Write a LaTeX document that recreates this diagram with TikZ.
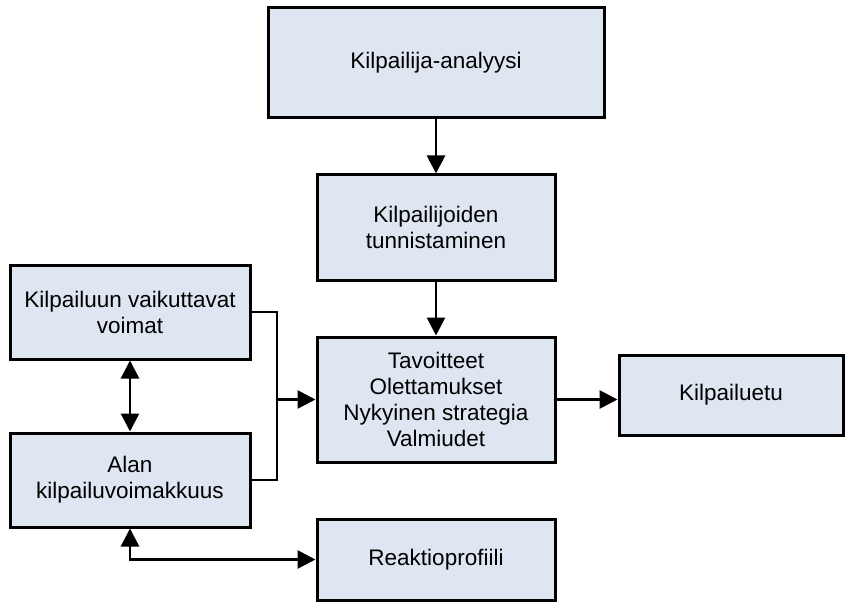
\documentclass[tikz,border=0pt]{standalone}
\usepackage{fontspec}
\setmainfont{Liberation Sans}
\usetikzlibrary{arrows.meta}
\definecolor{boxfill}{RGB}{222,230,241}
\begin{document}
\begin{tikzpicture}[x=1pt,y=-1pt,
  box/.style={draw=black, line width=3pt, fill=boxfill, rectangle, inner sep=0pt,
    align=center, font=\fontsize{22.5}{26}\selectfont},
  conn/.style={line width=2.8pt, -{Triangle[length=18pt,width=18pt]}},
  dconn/.style={line width=2.8pt, {Triangle[length=18pt,width=18pt]}-{Triangle[length=18pt,width=18pt]}},
  plain/.style={line width=2.8pt}]
\useasboundingbox (0,0) rectangle (846,604);
\node[box, minimum width=336pt, minimum height=110pt] (top) at (436,63) {Kilpailija-analyysi};
\node[box, minimum width=238pt, minimum height=105pt] (tun) at (436,227.5) {Kilpailijoiden\\tunnistaminen};
\node[box, minimum width=238pt, minimum height=125pt] (mid) at (436,399.5) {Tavoitteet\\Olettamukset\\Nykyinen strategia\\Valmiudet};
\node[box, minimum width=238pt, minimum height=81pt] (reak) at (436,559.5) {Reaktioprofiili};
\node[box, minimum width=240pt, minimum height=94pt] (kil) at (130,312) {Kilpailuun vaikuttavat\\voimat};
\node[box, minimum width=240pt, minimum height=94pt] (alan) at (130,480) {Alan\\kilpailuvoimakkuus};
\node[box, minimum width=224pt, minimum height=80pt] (etu) at (731,395) {Kilpailuetu};
\coordinate (j) at (277,399.5);
\draw[conn] (top) -- (tun);
\draw[conn] (tun) -- (mid);
\draw[conn] (mid.east) -- (etu.west |- mid.east);
\draw[plain] (kil.east) -| (j) |- (alan.east);
\draw[conn] (j) -- (mid.west);
\draw[dconn] (kil) -- (alan);
\draw[dconn] (alan.south) |- (reak.west);
\end{tikzpicture}
\end{document}
